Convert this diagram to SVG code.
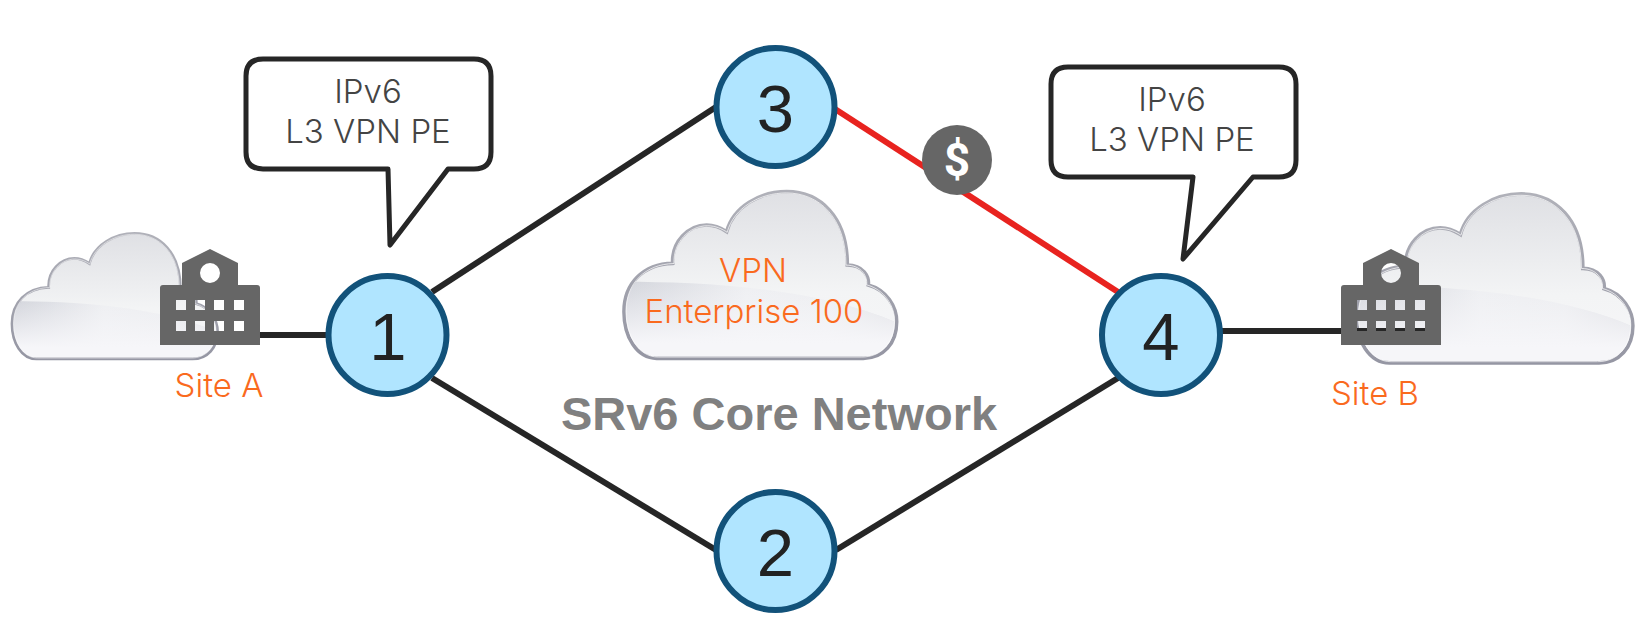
<svg xmlns="http://www.w3.org/2000/svg" xmlns:xlink="http://www.w3.org/1999/xlink" width="1648" height="623" viewBox="0 0 1648 623">
<style>
.link{stroke:#262626;stroke-width:6;fill:none}
.red{stroke:#e8231f;stroke-width:6;fill:none}
.router{fill:#b0e5ff;stroke:#12527a;stroke-width:6}
.num{font-family:"Liberation Sans",Arimo,sans-serif;font-size:67px;fill:#222;text-anchor:middle}
.call{fill:#fff;stroke:#262626;stroke-width:5;stroke-linejoin:round}
.calltxt{font-family:Inter,"Liberation Sans",sans-serif;font-weight:300;font-size:33px;fill:#444;text-anchor:middle}
.org{font-family:Inter,"Liberation Sans",sans-serif;font-weight:300;font-size:33px;fill:#fa6a1e;text-anchor:middle}
.title{font-family:"Liberation Sans",sans-serif;font-weight:700;font-size:47px;fill:#808080;text-anchor:middle}
.bldg{fill:#666;fill-rule:evenodd}
</style>
<defs>
<linearGradient id="cloudTop" x1="0" y1="0" x2="0" y2="1"><stop offset="0" stop-color="#dfe0e4"/><stop offset="0.6" stop-color="#f3f4f5"/><stop offset="1" stop-color="#f6f6f8"/></linearGradient>
<linearGradient id="gloss" x1="0" y1="0" x2="1" y2="0"><stop offset="0" stop-color="#d2d4db"/><stop offset="0.45" stop-color="#eeeff2"/><stop offset="0.75" stop-color="#ecedf0"/><stop offset="1" stop-color="#d9dadf"/></linearGradient>
<linearGradient id="glossFade" x1="0" y1="0" x2="0" y2="1"><stop offset="0" stop-color="#f6f6f9" stop-opacity="0"/><stop offset="0.75" stop-color="#f6f6f9" stop-opacity="1"/></linearGradient>
<linearGradient id="edge" x1="0" y1="0" x2="0" y2="1"><stop offset="0" stop-color="#b0b1b9"/><stop offset="1" stop-color="#9596a3"/></linearGradient>
<path id="cloudShape" d="M170,565 C110,565 72,500 72,425 C72,340 130,282 218,280 C215,215 265,165 320,165 C345,165 365,175 380,185 C400,110 480,65 560,65 C660,65 742,140 742,285 C790,285 808,320 805,345 C860,360 890,410 890,455 C890,520 850,565 790,565 Z"/>
<clipPath id="cloudClip"><use xlink:href="#cloudShape" href="#cloudShape"/></clipPath>
<g id="cloud">
<use href="#cloudShape" fill="url(#cloudTop)"/>
<g clip-path="url(#cloudClip)">
<path d="M60,335 C300,335 650,350 900,462 L900,580 L60,580 Z" fill="url(#gloss)"/>
<path d="M60,335 C300,335 650,350 900,462 L900,580 L60,580 Z" fill="url(#glossFade)"/>
</g>
<use href="#cloudShape" fill="none" stroke="url(#edge)" stroke-width="11"/>
<use href="#cloudShape" fill="none" stroke="#fff" stroke-opacity="0.7" stroke-width="3" transform="translate(481,315) scale(0.985) translate(-481,-315)"/>
</g>
<path id="building" class="bldg" d="M163,285 H182 V263 L210,249 L238,263 V285 H257 Q260,285 260,288 V345 H160 V288 Q160,285 163,285 Z M200,273 A10,10 0 1 0 220,273 A10,10 0 1 0 200,273 Z M176,300 V310 H186 V300 Z M195,300 V310 H205 V300 Z M214,300 V310 H224 V300 Z M234,300 V310 H244 V300 Z M176,321 V331 H186 V321 Z M195,321 V331 H205 V321 Z M214,321 V331 H224 V321 Z M234,321 V331 H244 V321 Z"/>
</defs>

<g id="cloud-site-a"><use href="#cloud" transform="translate(-6.1,217) scale(0.2513)"/></g>
<g id="cloud-vpn">
<use href="#cloud" transform="translate(600,170) scale(0.3333)"/>
<text class="org" x="753" y="282">VPN</text>
<text class="org" x="754" y="323">Enterprise 100</text>
</g>
<g id="cloud-site-b"><use href="#cloud" transform="translate(1332,172) scale(0.338)"/></g>

<g id="connectors">
<line class="link" x1="246" y1="335" x2="332" y2="335"/>
<line class="link" x1="1215" y1="331" x2="1428" y2="331"/>
<line class="link" x1="432" y1="292" x2="716" y2="107"/>
<line class="link" x1="432" y1="378" x2="716" y2="550"/>
<line class="link" x1="836" y1="550" x2="1118" y2="378"/>
<line class="red" x1="835" y1="109" x2="1118" y2="292"/>
</g>

<g id="site-a">
<use href="#building"/>
<text class="org" x="219" y="397">Site A</text>
</g>
<g id="site-b">
<use href="#building" transform="translate(1181,0)"/>
<text class="org" x="1375" y="405">Site B</text>
</g>

<g id="callout-1">
<path class="call" d="M263,59 H474 Q491,59 491,76 V152 Q491,169 474,169 H448 L390,245 L388,169 H263 Q246,169 246,152 V76 Q246,59 263,59 Z"/>
<text class="calltxt" x="368" y="103">IPv6</text>
<text class="calltxt" x="368" y="143">L3 VPN PE</text>
</g>
<g id="callout-4">
<path class="call" d="M1068,67 H1279 Q1296,67 1296,84 V160 Q1296,177 1279,177 H1253 L1183,259 L1193,177 H1068 Q1051,177 1051,160 V84 Q1051,67 1068,67 Z"/>
<text class="calltxt" x="1172" y="111">IPv6</text>
<text class="calltxt" x="1172" y="151">L3 VPN PE</text>
</g>

<g id="node-1"><circle class="router" cx="387.5" cy="335" r="59"/><text class="num" x="388" y="360">1</text></g>
<g id="node-2"><circle class="router" cx="775.5" cy="551" r="59"/><text class="num" x="775.5" y="576">2</text></g>
<g id="node-3"><circle class="router" cx="775.5" cy="107" r="59"/><text class="num" x="775.5" y="132">3</text></g>
<g id="node-4"><circle class="router" cx="1161" cy="335" r="59"/><text class="num" x="1161" y="360">4</text></g>

<g id="cost"><circle cx="957" cy="160" r="35" fill="#666"/><text x="957" y="176" font-family="Roboto,'Liberation Sans',sans-serif" font-weight="700" font-size="46" fill="#fff" text-anchor="middle">$</text></g>

<text class="title" x="779" y="430">SRv6 Core Network</text>
</svg>
